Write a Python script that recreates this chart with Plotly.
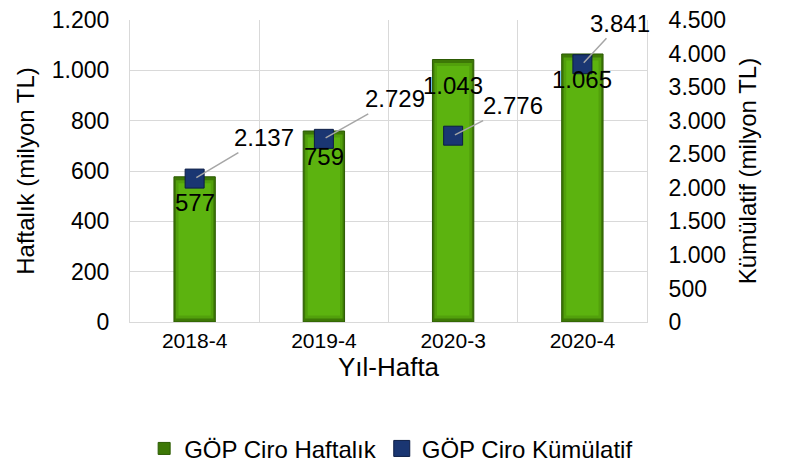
import plotly.graph_objects as go

categories = ["2018-4", "2019-4", "2020-3", "2020-4"]
weekly = [577, 759, 1043, 1065]
cumulative = [2137, 2729, 2776, 3841]

# label offsets (pixels) for cumulative labels
cum_label_dx = [69, 71, 60, 38]
cum_label_dy = [-41, -40, -30, -41]

FONT = "Liberation Sans, Arial, sans-serif"


def tr(v):
    return f"{v:,}".replace(",", ".")


fig = go.Figure()

# outer (darker) bar body
fig.add_trace(go.Bar(
    x=categories, y=weekly, name="GÖP Ciro Haftalık",
    marker=dict(color="#3d7806", line=dict(color="#2c5a03", width=1)),
    width=0.32, showlegend=True, legendgroup="w", hoverinfo="skip",
))
# mid layer
inset = 14
fig.add_trace(go.Bar(
    x=categories, y=[v - 2 * inset for v in weekly], base=[inset] * len(weekly),
    marker=dict(color="#52a00c", line=dict(width=0)),
    width=0.29, showlegend=False, legendgroup="w", hoverinfo="skip",
))
# inner lighter face
inset2 = 26
fig.add_trace(go.Bar(
    x=categories, y=[v - 2 * inset2 for v in weekly], base=[inset2] * len(weekly),
    marker=dict(color="#5cb30f", line=dict(width=0)),
    width=0.25, showlegend=False, legendgroup="w", hoverinfo="skip",
))

fig.add_trace(go.Scatter(
    x=categories, y=cumulative, name="GÖP Ciro Kümülatif", yaxis="y2",
    mode="markers",
    marker=dict(symbol="square", size=19, color="#1a3672",
                line=dict(color="#0c1d45", width=1)),
))

annotations = []
for c, v in zip(categories, weekly):
    annotations.append(dict(
        x=c, y=v, xref="x", yref="y", text=tr(v), showarrow=False,
        yshift=-26, font=dict(size=24, color="#000000", family=FONT),
    ))
for c, v, dx, dy in zip(categories, cumulative, cum_label_dx, cum_label_dy):
    annotations.append(dict(
        x=c, y=v, xref="x", yref="y2", text=tr(v), showarrow=True,
        ax=dx, ay=dy, arrowhead=0, arrowwidth=1.5, arrowcolor="#a6a6a6",
        standoff=2,
        font=dict(size=24, color="#000000", family=FONT),
    ))

grid = "#d9d9d9"
fig.update_layout(
    width=790, height=473,
    margin=dict(l=122, r=151, t=12, b=159),
    paper_bgcolor="white", plot_bgcolor="white",
    separators=",.",
    barmode="overlay",
    font=dict(family=FONT, color="#000000"),
    xaxis=dict(
        type="category", tickson="boundaries", showgrid=True, gridcolor=grid,
        gridwidth=1, showline=True, linecolor=grid, linewidth=1,
        ticks="outside", ticklen=18, tickcolor="rgba(0,0,0,0)",
        tickfont=dict(size=21), range=[-0.5, 3.5], automargin=False,
        title=dict(text="Yıl-Hafta", font=dict(size=26), standoff=4),
    ),
    yaxis=dict(
        range=[0, 1200], dtick=200, tickformat=",", showgrid=True,
        gridcolor=grid, gridwidth=1, showline=True, linecolor=grid,
        zeroline=False, ticks="outside", ticklen=15, automargin=False,
        ticklabeloverflow="allow",
        tickcolor="rgba(0,0,0,0)", tickfont=dict(size=23),
        title=dict(text="Haftalık (milyon TL)", font=dict(size=24), standoff=10),
    ),
    yaxis2=dict(
        range=[0, 4500], dtick=500, tickformat=",", overlaying="y",
        side="right", showgrid=False, showline=True, linecolor=grid,
        zeroline=False, ticks="outside", ticklen=16, automargin=False,
        ticklabeloverflow="allow",
        tickcolor="rgba(0,0,0,0)", tickfont=dict(size=23),
        title=dict(text="Kümülatif (milyon TL)", font=dict(size=24), standoff=14),
    ),
    legend=dict(
        orientation="h", xref="container", yref="container",
        x=0.485, xanchor="center", y=0.068, yanchor="middle",
        font=dict(size=24), itemwidth=30, tracegroupgap=0,
    ),
    annotations=annotations,
)

fig.write_html("out.html")
